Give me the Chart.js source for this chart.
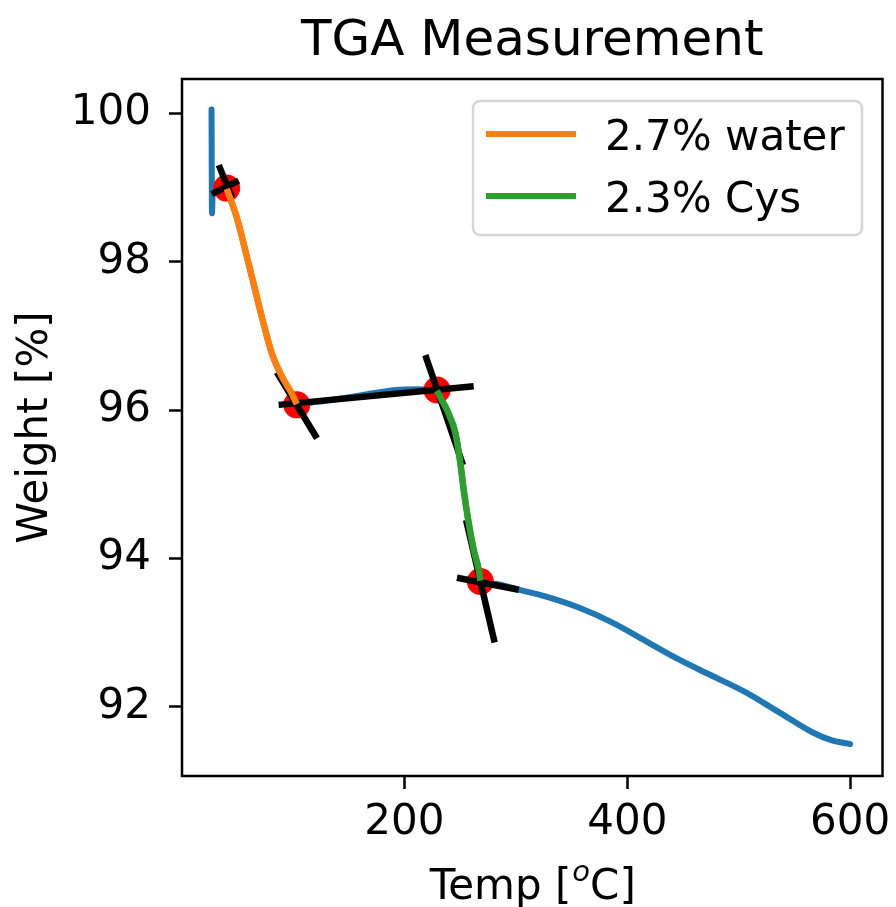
<!DOCTYPE html>
<html>
<head>
<meta charset="utf-8">
<title>TGA Measurement</title>
<script src="https://cdn.jsdelivr.net/npm/chart.js@4.4.0/dist/chart.umd.min.js"></script>
<style>
  html, body { margin: 0; padding: 0; background: #fff; }
  #wrap { width: 896px; height: 907px; }
</style>
</head>
<body>
<div id="wrap"><canvas id="tga" width="896" height="907"></canvas></div>
<script>
// values (temperature in degC, weight in %)
const spikeTemp = [27, 27.4, 28, 33];
const spikeWeight = [100.05, 98.65, 98.9, 99.01];

const waterTemp = [40.6, 45, 49.8, 57.3, 64.8, 72.2, 81.2, 90.2, 99.1, 103.5];
const waterWeight = [98.98, 98.8, 98.59, 98.15, 97.7, 97.25, 96.76, 96.45, 96.22, 96.08];

const plateauTemp = [121, 140, 161.7, 191.9, 212.8];
const plateauWeight = [96.11, 96.15, 96.2, 96.27, 96.28];

const cysTemp = [229.3, 233, 238.3, 245.8, 250.3, 253.2, 257.7, 262.2, 266.7, 268.2];
const cysWeight = [96.26, 96.15, 96.0, 95.69, 95.28, 94.93, 94.48, 94.12, 93.85, 93.7];

const tailTemp = [280, 302.6, 326.5, 356.4, 386.3, 416.3, 446.2, 476.1, 506, 536, 566, 583.7, 600];
const tailWeight = [93.66, 93.58, 93.49, 93.34, 93.14, 92.89, 92.64, 92.42, 92.2, 91.93, 91.66, 91.55, 91.5];

// onset / end points
const markTemp = [40.6, 103.5, 229.3, 268.2];
const markWeight = [98.99, 96.07, 96.27, 93.69];

// tangent segments: [t0, w0, t1, w1]
const tangents = [
  [27.3, 98.91, 51.3, 99.09],
  [33.5, 99.30, 45.4, 98.86],
  [87.2, 96.07, 262.2, 96.32],
  [85.6, 96.51, 121.6, 95.62],
  [218.8, 96.74, 252.6, 95.26],
  [247.2, 93.74, 302.6, 93.58],
  [255.4, 94.52, 281.0, 92.87]
];

const xTicks = [200, 400, 600];
const yTicks = [92, 94, 96, 98, 100];
const seriesLabels = ['2.7% water', '2.3% Cys'];

const FONT = 'DejaVu Sans';

function pts(xs, ys) {
  return xs.map((x, i) => ({ x: x, y: ys[i] }));
}

const allTemp = [].concat(spikeTemp, waterTemp, plateauTemp, cysTemp, tailTemp);
const allWeight = [].concat(spikeWeight, waterWeight, plateauWeight, cysWeight, tailWeight);

const datasets = [];
datasets.push({
  data: pts(waterTemp, waterWeight), label: seriesLabels[0], legend: true,
  borderColor: '#ff7f0e', borderWidth: 6.5, pointRadius: 0,
  cubicInterpolationMode: 'monotone', order: 0
});
datasets.push({
  data: pts(cysTemp, cysWeight), label: seriesLabels[1], legend: true,
  borderColor: '#2ca02c', borderWidth: 6.5, pointRadius: 0,
  cubicInterpolationMode: 'monotone', order: 0
});
tangents.forEach(t => {
  datasets.push({
    data: [{ x: t[0], y: t[1] }, { x: t[2], y: t[3] }],
    borderColor: '#000', borderWidth: 6.5, pointRadius: 0, order: 1
  });
});
datasets.push({
  data: pts(markTemp, markWeight), showLine: false,
  pointRadius: 13.5, pointBackgroundColor: '#ff0000', pointBorderWidth: 0,
  order: 2
});
datasets.push({
  data: pts(allTemp, allWeight),
  borderColor: '#1f77b4', borderWidth: 6, pointRadius: 0,
  cubicInterpolationMode: 'monotone', borderCapStyle: 'round', order: 3
});

const framePlugin = {
  id: 'frame',
  afterDatasetsDraw(chart) {
    const { ctx, chartArea: a } = chart;
    ctx.save();
    ctx.strokeStyle = '#000';
    ctx.lineWidth = 2.5;
    ctx.strokeRect(a.left, a.top, a.right - a.left, a.bottom - a.top);

    // legend box
    const bx = 473, by = 101, bw = 389, bh = 134, r = 7;
    ctx.beginPath();
    ctx.moveTo(bx + r, by);
    ctx.arcTo(bx + bw, by, bx + bw, by + bh, r);
    ctx.arcTo(bx + bw, by + bh, bx, by + bh, r);
    ctx.arcTo(bx, by + bh, bx, by, r);
    ctx.arcTo(bx, by, bx + bw, by, r);
    ctx.closePath();
    ctx.fillStyle = 'rgba(255,255,255,0.8)';
    ctx.fill();
    ctx.strokeStyle = '#d6d6d6';
    ctx.lineWidth = 2.5;
    ctx.stroke();

    const items = chart.data.datasets.filter(d => d.legend);
    ctx.font = '42px "' + FONT + '"';
    ctx.textBaseline = 'alphabetic';
    ctx.textAlign = 'left';
    items.forEach((d, i) => {
      const ly = 134 + i * 62;
      ctx.beginPath();
      ctx.moveTo(486, ly);
      ctx.lineTo(576, ly);
      ctx.strokeStyle = d.borderColor;
      ctx.lineWidth = 6;
      ctx.stroke();
      ctx.fillStyle = '#000';
      ctx.fillText(d.label, 605, 150 + i * 62);
    });

    // title
    const cx = (a.left + a.right) / 2;
    ctx.textAlign = 'center';
    ctx.font = '50px "' + FONT + '"';
    ctx.fillText('TGA Measurement', cx, 55);

    // x label with superscript o
    const big = '42px "' + FONT + '"', small = 'italic 29px "' + FONT + '"';
    ctx.textAlign = 'left';
    ctx.font = big;
    const w1 = ctx.measureText('Temp [').width;
    const w3 = ctx.measureText('C]').width;
    ctx.font = small;
    const w2 = ctx.measureText('o').width;
    let x0 = cx - (w1 + w2 + w3) / 2;
    const base = 899;
    ctx.font = big;
    ctx.fillText('Temp [', x0, base);
    ctx.font = small;
    ctx.fillText('o', x0 + w1 + 1, base - 18);
    ctx.font = big;
    ctx.fillText('C]', x0 + w1 + w2 + 1, base);

    // y label
    ctx.save();
    ctx.translate(47, (a.top + a.bottom) / 2);
    ctx.rotate(-Math.PI / 2);
    ctx.textAlign = 'center';
    ctx.fillText('Weight [%]', 0, 0);
    ctx.restore();
    ctx.restore();
  }
};

new Chart(document.getElementById('tga'), {
  type: 'line',
  data: { datasets: datasets },
  options: {
    responsive: false,
    animation: false,
    devicePixelRatio: 1,
    layout: { padding: { top: 79, right: 12, left: 0, bottom: 0 } },
    plugins: { legend: { display: false }, tooltip: { enabled: false } },
    scales: {
      x: {
        type: 'linear', min: 0.5, max: 629,
        afterBuildTicks: s => { s.ticks = xTicks.map(v => ({ value: v })); },
        afterFit: s => { s.height = 131; s.paddingLeft = 0; s.paddingRight = 0; },
        ticks: { color: '#000', font: { family: FONT, size: 42 }, padding: 9, maxRotation: 0 },
        grid: { drawOnChartArea: false, drawTicks: true, tickLength: 13, tickWidth: 2.5, tickColor: '#000' },
        border: { display: false }
      },
      y: {
        type: 'linear', min: 91.07, max: 100.46,
        afterBuildTicks: s => { s.ticks = yTicks.map(v => ({ value: v })); },
        afterFit: s => { s.width = 182; s.paddingTop = 0; s.paddingBottom = 0; },
        ticks: { color: '#000', font: { family: FONT, size: 42 }, padding: 18 },
        grid: { drawOnChartArea: false, drawTicks: true, tickLength: 13, tickWidth: 2.5, tickColor: '#000' },
        border: { display: false }
      }
    }
  },
  plugins: [framePlugin]
});
</script>
</body>
</html>
